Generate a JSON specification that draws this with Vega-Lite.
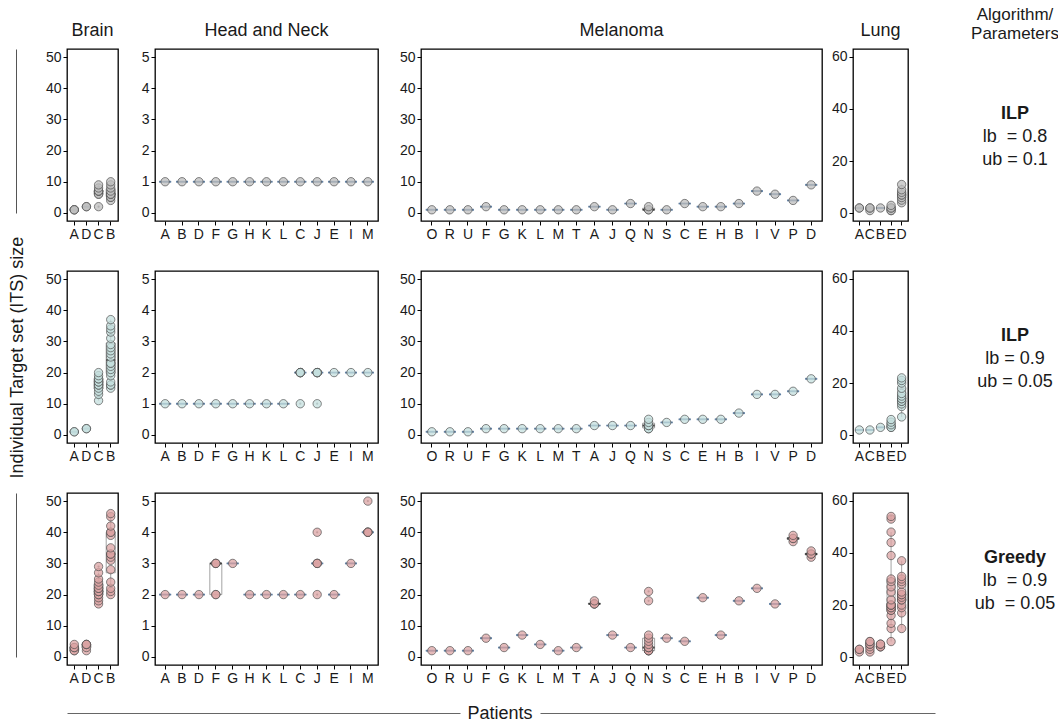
{
"$schema":"https://vega.github.io/schema/vega-lite/v6.json",
"padding":{"left":7,"top":6,"right":0,"bottom":2},
"config":{
 "font":"Liberation Sans",
 "view":{"stroke":null},
 "axis":{"grid":false,"domain":false,"ticks":true,"tickColor":"#000","tickSize":4,"tickWidth":1,"labelColor":"#1a1a1a","labelFontSize":14,"labelPadding":2,"labelFont":"Liberation Sans","labelOverlap":false},
 "title":{"fontSize":18,"fontWeight":"normal","color":"#1a1a1a","offset":9,"font":"Liberation Sans"},
 "text":{"color":"#1a1a1a","font":"Liberation Sans"}
},
"datasets":{
"its":[
{"r":1,"c":"Br","p":"A","v":1},{"r":1,"c":"Br","p":"A","v":1},{"r":1,"c":"Br","p":"A","v":1},{"r":1,"c":"Br","p":"D","v":2},{"r":1,"c":"Br","p":"D","v":2},
{"r":1,"c":"Br","p":"C","v":2},{"r":1,"c":"Br","p":"C","v":6},{"r":1,"c":"Br","p":"C","v":6},{"r":1,"c":"Br","p":"C","v":7},{"r":1,"c":"Br","p":"C","v":7},{"r":1,"c":"Br","p":"C","v":7},{"r":1,"c":"Br","p":"C","v":8},{"r":1,"c":"Br","p":"C","v":9},
{"r":1,"c":"Br","p":"B","v":4},{"r":1,"c":"Br","p":"B","v":5},{"r":1,"c":"Br","p":"B","v":5},{"r":1,"c":"Br","p":"B","v":6},{"r":1,"c":"Br","p":"B","v":6},{"r":1,"c":"Br","p":"B","v":6},{"r":1,"c":"Br","p":"B","v":7},{"r":1,"c":"Br","p":"B","v":8},{"r":1,"c":"Br","p":"B","v":9},{"r":1,"c":"Br","p":"B","v":10},
{"r":1,"c":"HN","p":"A","v":1},{"r":1,"c":"HN","p":"B","v":1},{"r":1,"c":"HN","p":"D","v":1},{"r":1,"c":"HN","p":"F","v":1},{"r":1,"c":"HN","p":"G","v":1},{"r":1,"c":"HN","p":"H","v":1},{"r":1,"c":"HN","p":"K","v":1},{"r":1,"c":"HN","p":"L","v":1},{"r":1,"c":"HN","p":"C","v":1},{"r":1,"c":"HN","p":"J","v":1},{"r":1,"c":"HN","p":"E","v":1},{"r":1,"c":"HN","p":"I","v":1},{"r":1,"c":"HN","p":"M","v":1},
{"r":1,"c":"Mel","p":"O","v":1},{"r":1,"c":"Mel","p":"R","v":1},{"r":1,"c":"Mel","p":"U","v":1},{"r":1,"c":"Mel","p":"F","v":2},{"r":1,"c":"Mel","p":"G","v":1},{"r":1,"c":"Mel","p":"K","v":1},{"r":1,"c":"Mel","p":"L","v":1},{"r":1,"c":"Mel","p":"M","v":1},{"r":1,"c":"Mel","p":"T","v":1},{"r":1,"c":"Mel","p":"A","v":2},{"r":1,"c":"Mel","p":"J","v":1},{"r":1,"c":"Mel","p":"Q","v":3},{"r":1,"c":"Mel","p":"N","v":1},{"r":1,"c":"Mel","p":"N","v":1},{"r":1,"c":"Mel","p":"N","v":2},{"r":1,"c":"Mel","p":"S","v":1},{"r":1,"c":"Mel","p":"C","v":3},{"r":1,"c":"Mel","p":"E","v":2},{"r":1,"c":"Mel","p":"H","v":2},{"r":1,"c":"Mel","p":"B","v":3},{"r":1,"c":"Mel","p":"I","v":7},{"r":1,"c":"Mel","p":"V","v":6},{"r":1,"c":"Mel","p":"P","v":4},{"r":1,"c":"Mel","p":"D","v":9},
{"r":1,"c":"Lu","p":"A","v":2},{"r":1,"c":"Lu","p":"A","v":2},{"r":1,"c":"Lu","p":"C","v":1},{"r":1,"c":"Lu","p":"C","v":2},{"r":1,"c":"Lu","p":"C","v":2},{"r":1,"c":"Lu","p":"B","v":2},{"r":1,"c":"Lu","p":"E","v":1},{"r":1,"c":"Lu","p":"E","v":1},{"r":1,"c":"Lu","p":"E","v":2},{"r":1,"c":"Lu","p":"E","v":2},{"r":1,"c":"Lu","p":"E","v":3},
{"r":1,"c":"Lu","p":"D","v":4},{"r":1,"c":"Lu","p":"D","v":5},{"r":1,"c":"Lu","p":"D","v":6},{"r":1,"c":"Lu","p":"D","v":7},{"r":1,"c":"Lu","p":"D","v":7},{"r":1,"c":"Lu","p":"D","v":8},{"r":1,"c":"Lu","p":"D","v":9},{"r":1,"c":"Lu","p":"D","v":11},
{"r":2,"c":"Br","p":"A","v":1},{"r":2,"c":"Br","p":"A","v":1},{"r":2,"c":"Br","p":"D","v":2},{"r":2,"c":"Br","p":"D","v":2},
{"r":2,"c":"Br","p":"C","v":11},{"r":2,"c":"Br","p":"C","v":13},{"r":2,"c":"Br","p":"C","v":14},{"r":2,"c":"Br","p":"C","v":15},{"r":2,"c":"Br","p":"C","v":16},{"r":2,"c":"Br","p":"C","v":16},{"r":2,"c":"Br","p":"C","v":17},{"r":2,"c":"Br","p":"C","v":17},{"r":2,"c":"Br","p":"C","v":18},{"r":2,"c":"Br","p":"C","v":18},{"r":2,"c":"Br","p":"C","v":19},{"r":2,"c":"Br","p":"C","v":20},
{"r":2,"c":"Br","p":"B","v":15},{"r":2,"c":"Br","p":"B","v":16},{"r":2,"c":"Br","p":"B","v":16},{"r":2,"c":"Br","p":"B","v":17},{"r":2,"c":"Br","p":"B","v":19},{"r":2,"c":"Br","p":"B","v":20},{"r":2,"c":"Br","p":"B","v":21},{"r":2,"c":"Br","p":"B","v":22},{"r":2,"c":"Br","p":"B","v":23},{"r":2,"c":"Br","p":"B","v":23},{"r":2,"c":"Br","p":"B","v":25},{"r":2,"c":"Br","p":"B","v":26},{"r":2,"c":"Br","p":"B","v":27},{"r":2,"c":"Br","p":"B","v":28},{"r":2,"c":"Br","p":"B","v":29},{"r":2,"c":"Br","p":"B","v":31},{"r":2,"c":"Br","p":"B","v":33},{"r":2,"c":"Br","p":"B","v":34},{"r":2,"c":"Br","p":"B","v":35},{"r":2,"c":"Br","p":"B","v":37},
{"r":2,"c":"HN","p":"A","v":1},{"r":2,"c":"HN","p":"B","v":1},{"r":2,"c":"HN","p":"D","v":1},{"r":2,"c":"HN","p":"F","v":1},{"r":2,"c":"HN","p":"G","v":1},{"r":2,"c":"HN","p":"H","v":1},{"r":2,"c":"HN","p":"K","v":1},{"r":2,"c":"HN","p":"L","v":1},
{"r":2,"c":"HN","p":"C","v":1},{"r":2,"c":"HN","p":"C","v":2},{"r":2,"c":"HN","p":"C","v":2},{"r":2,"c":"HN","p":"C","v":2},{"r":2,"c":"HN","p":"C","v":2},{"r":2,"c":"HN","p":"C","v":2},
{"r":2,"c":"HN","p":"J","v":1},{"r":2,"c":"HN","p":"J","v":2},{"r":2,"c":"HN","p":"J","v":2},{"r":2,"c":"HN","p":"J","v":2},{"r":2,"c":"HN","p":"J","v":2},{"r":2,"c":"HN","p":"J","v":2},
{"r":2,"c":"HN","p":"E","v":2},{"r":2,"c":"HN","p":"I","v":2},{"r":2,"c":"HN","p":"M","v":2},
{"r":2,"c":"Mel","p":"O","v":1},{"r":2,"c":"Mel","p":"R","v":1},{"r":2,"c":"Mel","p":"U","v":1},{"r":2,"c":"Mel","p":"F","v":2},{"r":2,"c":"Mel","p":"G","v":2},{"r":2,"c":"Mel","p":"K","v":2},{"r":2,"c":"Mel","p":"L","v":2},{"r":2,"c":"Mel","p":"M","v":2},{"r":2,"c":"Mel","p":"T","v":2},{"r":2,"c":"Mel","p":"A","v":3},{"r":2,"c":"Mel","p":"J","v":3},{"r":2,"c":"Mel","p":"Q","v":3},
{"r":2,"c":"Mel","p":"N","v":2},{"r":2,"c":"Mel","p":"N","v":2},{"r":2,"c":"Mel","p":"N","v":3},{"r":2,"c":"Mel","p":"N","v":3},{"r":2,"c":"Mel","p":"N","v":4},{"r":2,"c":"Mel","p":"N","v":5},
{"r":2,"c":"Mel","p":"S","v":4},{"r":2,"c":"Mel","p":"C","v":5},{"r":2,"c":"Mel","p":"E","v":5},{"r":2,"c":"Mel","p":"H","v":5},{"r":2,"c":"Mel","p":"B","v":7},{"r":2,"c":"Mel","p":"I","v":13},{"r":2,"c":"Mel","p":"V","v":13},{"r":2,"c":"Mel","p":"P","v":14},{"r":2,"c":"Mel","p":"D","v":18},
{"r":2,"c":"Lu","p":"A","v":2},{"r":2,"c":"Lu","p":"C","v":2},{"r":2,"c":"Lu","p":"B","v":3},{"r":2,"c":"Lu","p":"E","v":3},{"r":2,"c":"Lu","p":"E","v":3},{"r":2,"c":"Lu","p":"E","v":4},{"r":2,"c":"Lu","p":"E","v":5},{"r":2,"c":"Lu","p":"E","v":6},
{"r":2,"c":"Lu","p":"D","v":7},{"r":2,"c":"Lu","p":"D","v":11},{"r":2,"c":"Lu","p":"D","v":12},{"r":2,"c":"Lu","p":"D","v":13},{"r":2,"c":"Lu","p":"D","v":13},{"r":2,"c":"Lu","p":"D","v":14},{"r":2,"c":"Lu","p":"D","v":14},{"r":2,"c":"Lu","p":"D","v":15},{"r":2,"c":"Lu","p":"D","v":16},{"r":2,"c":"Lu","p":"D","v":18},{"r":2,"c":"Lu","p":"D","v":20},{"r":2,"c":"Lu","p":"D","v":21},{"r":2,"c":"Lu","p":"D","v":22},
{"r":3,"c":"Br","p":"A","v":2},{"r":3,"c":"Br","p":"A","v":2},{"r":3,"c":"Br","p":"A","v":3},{"r":3,"c":"Br","p":"A","v":3},{"r":3,"c":"Br","p":"A","v":4},
{"r":3,"c":"Br","p":"D","v":2},{"r":3,"c":"Br","p":"D","v":3},{"r":3,"c":"Br","p":"D","v":4},{"r":3,"c":"Br","p":"D","v":4},{"r":3,"c":"Br","p":"D","v":4},
{"r":3,"c":"Br","p":"C","v":17},{"r":3,"c":"Br","p":"C","v":18},{"r":3,"c":"Br","p":"C","v":19},{"r":3,"c":"Br","p":"C","v":20},{"r":3,"c":"Br","p":"C","v":20},{"r":3,"c":"Br","p":"C","v":21},{"r":3,"c":"Br","p":"C","v":21},{"r":3,"c":"Br","p":"C","v":21},{"r":3,"c":"Br","p":"C","v":22},{"r":3,"c":"Br","p":"C","v":22},{"r":3,"c":"Br","p":"C","v":23},{"r":3,"c":"Br","p":"C","v":24},{"r":3,"c":"Br","p":"C","v":25},{"r":3,"c":"Br","p":"C","v":27},{"r":3,"c":"Br","p":"C","v":29},
{"r":3,"c":"Br","p":"B","v":20},{"r":3,"c":"Br","p":"B","v":21},{"r":3,"c":"Br","p":"B","v":22},{"r":3,"c":"Br","p":"B","v":24},{"r":3,"c":"Br","p":"B","v":28},{"r":3,"c":"Br","p":"B","v":31},{"r":3,"c":"Br","p":"B","v":32},{"r":3,"c":"Br","p":"B","v":33},{"r":3,"c":"Br","p":"B","v":33},{"r":3,"c":"Br","p":"B","v":35},{"r":3,"c":"Br","p":"B","v":39},{"r":3,"c":"Br","p":"B","v":40},{"r":3,"c":"Br","p":"B","v":40},{"r":3,"c":"Br","p":"B","v":42},{"r":3,"c":"Br","p":"B","v":45},{"r":3,"c":"Br","p":"B","v":46},
{"r":3,"c":"HN","p":"A","v":2},{"r":3,"c":"HN","p":"B","v":2},{"r":3,"c":"HN","p":"D","v":2},{"r":3,"c":"HN","p":"F","v":2},{"r":3,"c":"HN","p":"F","v":2},{"r":3,"c":"HN","p":"F","v":3},{"r":3,"c":"HN","p":"F","v":3},{"r":3,"c":"HN","p":"F","v":3},{"r":3,"c":"HN","p":"G","v":3},{"r":3,"c":"HN","p":"H","v":2},{"r":3,"c":"HN","p":"K","v":2},{"r":3,"c":"HN","p":"L","v":2},{"r":3,"c":"HN","p":"C","v":2},
{"r":3,"c":"HN","p":"J","v":2},{"r":3,"c":"HN","p":"J","v":3},{"r":3,"c":"HN","p":"J","v":3},{"r":3,"c":"HN","p":"J","v":3},{"r":3,"c":"HN","p":"J","v":4},{"r":3,"c":"HN","p":"E","v":2},{"r":3,"c":"HN","p":"I","v":3},
{"r":3,"c":"HN","p":"M","v":4},{"r":3,"c":"HN","p":"M","v":4},{"r":3,"c":"HN","p":"M","v":4},{"r":3,"c":"HN","p":"M","v":4},{"r":3,"c":"HN","p":"M","v":5},
{"r":3,"c":"Mel","p":"O","v":2},{"r":3,"c":"Mel","p":"R","v":2},{"r":3,"c":"Mel","p":"U","v":2},{"r":3,"c":"Mel","p":"F","v":6},{"r":3,"c":"Mel","p":"G","v":3},{"r":3,"c":"Mel","p":"K","v":7},{"r":3,"c":"Mel","p":"L","v":4},{"r":3,"c":"Mel","p":"M","v":2},{"r":3,"c":"Mel","p":"T","v":3},
{"r":3,"c":"Mel","p":"A","v":17},{"r":3,"c":"Mel","p":"A","v":17},{"r":3,"c":"Mel","p":"A","v":17},{"r":3,"c":"Mel","p":"A","v":18},{"r":3,"c":"Mel","p":"J","v":7},{"r":3,"c":"Mel","p":"Q","v":3},
{"r":3,"c":"Mel","p":"N","v":2},{"r":3,"c":"Mel","p":"N","v":2},{"r":3,"c":"Mel","p":"N","v":2},{"r":3,"c":"Mel","p":"N","v":2},{"r":3,"c":"Mel","p":"N","v":3},{"r":3,"c":"Mel","p":"N","v":3},{"r":3,"c":"Mel","p":"N","v":3},{"r":3,"c":"Mel","p":"N","v":4},{"r":3,"c":"Mel","p":"N","v":5},{"r":3,"c":"Mel","p":"N","v":6},{"r":3,"c":"Mel","p":"N","v":7},{"r":3,"c":"Mel","p":"N","v":18},{"r":3,"c":"Mel","p":"N","v":21},
{"r":3,"c":"Mel","p":"S","v":6},{"r":3,"c":"Mel","p":"C","v":5},{"r":3,"c":"Mel","p":"E","v":19},{"r":3,"c":"Mel","p":"H","v":7},{"r":3,"c":"Mel","p":"B","v":18},{"r":3,"c":"Mel","p":"I","v":22},{"r":3,"c":"Mel","p":"V","v":17},
{"r":3,"c":"Mel","p":"P","v":37},{"r":3,"c":"Mel","p":"P","v":38},{"r":3,"c":"Mel","p":"P","v":38},{"r":3,"c":"Mel","p":"P","v":39},{"r":3,"c":"Mel","p":"D","v":32},{"r":3,"c":"Mel","p":"D","v":33},{"r":3,"c":"Mel","p":"D","v":33},{"r":3,"c":"Mel","p":"D","v":34},
{"r":3,"c":"Lu","p":"A","v":2},{"r":3,"c":"Lu","p":"A","v":3},{"r":3,"c":"Lu","p":"A","v":3},
{"r":3,"c":"Lu","p":"C","v":2},{"r":3,"c":"Lu","p":"C","v":3},{"r":3,"c":"Lu","p":"C","v":4},{"r":3,"c":"Lu","p":"C","v":5},{"r":3,"c":"Lu","p":"C","v":5},{"r":3,"c":"Lu","p":"C","v":6},{"r":3,"c":"Lu","p":"C","v":6},
{"r":3,"c":"Lu","p":"B","v":4},{"r":3,"c":"Lu","p":"B","v":4},{"r":3,"c":"Lu","p":"B","v":4},{"r":3,"c":"Lu","p":"B","v":5},{"r":3,"c":"Lu","p":"B","v":5},
{"r":3,"c":"Lu","p":"E","v":6},{"r":3,"c":"Lu","p":"E","v":11},{"r":3,"c":"Lu","p":"E","v":13},{"r":3,"c":"Lu","p":"E","v":16},{"r":3,"c":"Lu","p":"E","v":18},{"r":3,"c":"Lu","p":"E","v":18},{"r":3,"c":"Lu","p":"E","v":19},{"r":3,"c":"Lu","p":"E","v":19},{"r":3,"c":"Lu","p":"E","v":20},{"r":3,"c":"Lu","p":"E","v":20},{"r":3,"c":"Lu","p":"E","v":20},{"r":3,"c":"Lu","p":"E","v":22},{"r":3,"c":"Lu","p":"E","v":25},{"r":3,"c":"Lu","p":"E","v":27},{"r":3,"c":"Lu","p":"E","v":29},{"r":3,"c":"Lu","p":"E","v":30},{"r":3,"c":"Lu","p":"E","v":39},{"r":3,"c":"Lu","p":"E","v":44},{"r":3,"c":"Lu","p":"E","v":48},{"r":3,"c":"Lu","p":"E","v":53},{"r":3,"c":"Lu","p":"E","v":54},
{"r":3,"c":"Lu","p":"D","v":11},{"r":3,"c":"Lu","p":"D","v":17},{"r":3,"c":"Lu","p":"D","v":19},{"r":3,"c":"Lu","p":"D","v":20},{"r":3,"c":"Lu","p":"D","v":22},{"r":3,"c":"Lu","p":"D","v":22},{"r":3,"c":"Lu","p":"D","v":23},{"r":3,"c":"Lu","p":"D","v":24},{"r":3,"c":"Lu","p":"D","v":24},{"r":3,"c":"Lu","p":"D","v":25},{"r":3,"c":"Lu","p":"D","v":28},{"r":3,"c":"Lu","p":"D","v":29},{"r":3,"c":"Lu","p":"D","v":30},{"r":3,"c":"Lu","p":"D","v":31},{"r":3,"c":"Lu","p":"D","v":37}
],
"lab":[
{"r":1,"line":1,"t":"ILP"},{"r":1,"line":2,"t":"lb\u00a0 = 0.8"},{"r":1,"line":3,"t":"ub = 0.1"},
{"r":2,"line":1,"t":"ILP"},{"r":2,"line":2,"t":"lb = 0.9"},{"r":2,"line":3,"t":"ub = 0.05"},
{"r":3,"line":1,"t":"Greedy"},{"r":3,"line":2,"t":"lb\u00a0 = 0.9"},{"r":3,"line":3,"t":"ub\u00a0 = 0.05"}
]
},
"vconcat":[
{"columns":11,"spacing":{"row":50,"column":0},"bounds":"flush","concat":[
{"width":1,"height":164,"data":{"values":[{"k":0}]},"mark":{"type":"point","opacity":0},"encoding":{"y":{"field":"k","type":"quantitative","scale":{"domain":[0,1]},"axis":{"domain":true,"domainColor":"#555","domainWidth":1,"ticks":false,"labels":false,"title":null}}}},
{"width":50,"height":172,"data":{"values":[{"k":0}]},"mark":{"type":"point","opacity":0},"encoding":{}},
{"width":51,"height":172,"view":{"stroke":"black","strokeWidth":1.3},"title":"Brain","data":{"name":"its"},"transform":[{"filter":"datum.r==1 && datum.c=='Br'"}],"layer":[
{"mark":{"type":"boxplot","extent":1.5,"size":9,"ticks":false,"box":{"fill":"white","fillOpacity":0,"stroke":"#8c8c8c","strokeWidth":0.8},"median":{"color":"#000","thickness":2},"rule":{"color":"#8c8c8c","strokeWidth":0.8},"outliers":{"size":5,"color":"#555","filled":true}},
"encoding":{"x":{"field":"p","type":"nominal","sort":["A","D","C","B"],"scale":{"type":"band","paddingInner":0,"paddingOuter":0.1},"axis":{"title":null,"labelAngle":0}},"y":{"field":"v","type":"quantitative","scale":{"domain":[-2.6,52.6],"nice":false,"zero":false},"axis":{"title":null,"values":[0,10,20,30,40,50]}}}},
{"mark":{"type":"circle","size":70,"fill":"#bdbdbd","fillOpacity":0.75,"stroke":"#4d4d4d","strokeWidth":0.8,"strokeOpacity":0.85},
"encoding":{"x":{"field":"p","type":"nominal","sort":["A","D","C","B"],"scale":{"type":"band","paddingInner":0,"paddingOuter":0.1},"axis":{"title":null,"labelAngle":0}},"y":{"field":"v","type":"quantitative","scale":{"domain":[-2.6,52.6],"nice":false,"zero":false},"axis":{"title":null,"values":[0,10,20,30,40,50]}}}}]},
{"width":37,"height":172,"data":{"values":[{"k":0}]},"mark":{"type":"point","opacity":0},"encoding":{}},
{"width":223,"height":172,"view":{"stroke":"black","strokeWidth":1.3},"title":"Head and Neck","data":{"name":"its"},"transform":[{"filter":"datum.r==1 && datum.c=='HN'"}],"layer":[
{"mark":{"type":"boxplot","extent":1.5,"size":12,"ticks":false,"box":{"fill":"white","fillOpacity":0,"stroke":"#8c8c8c","strokeWidth":0.8},"median":{"color":"#000","thickness":2},"rule":{"color":"#8c8c8c","strokeWidth":0.8},"outliers":{"size":5,"color":"#555","filled":true}},
"encoding":{"x":{"field":"p","type":"nominal","sort":["A","B","D","F","G","H","K","L","C","J","E","I","M"],"scale":{"type":"band","paddingInner":0,"paddingOuter":0.1},"axis":{"title":null,"labelAngle":0}},"y":{"field":"v","type":"quantitative","scale":{"domain":[-0.26,5.26],"nice":false,"zero":false},"axis":{"title":null,"values":[0,1,2,3,4,5]}}}},
{"mark":{"type":"circle","size":70,"fill":"#bdbdbd","fillOpacity":0.75,"stroke":"#4d4d4d","strokeWidth":0.8,"strokeOpacity":0.85},
"encoding":{"x":{"field":"p","type":"nominal","sort":["A","B","D","F","G","H","K","L","C","J","E","I","M"],"scale":{"type":"band","paddingInner":0,"paddingOuter":0.1},"axis":{"title":null,"labelAngle":0}},"y":{"field":"v","type":"quantitative","scale":{"domain":[-0.26,5.26],"nice":false,"zero":false},"axis":{"title":null,"values":[0,1,2,3,4,5]}}}}]},
{"width":43,"height":172,"data":{"values":[{"k":0}]},"mark":{"type":"point","opacity":0},"encoding":{}},
{"width":401,"height":172,"view":{"stroke":"black","strokeWidth":1.3},"title":"Melanoma","data":{"name":"its"},"transform":[{"filter":"datum.r==1 && datum.c=='Mel'"}],"layer":[
{"mark":{"type":"boxplot","extent":1.5,"size":12,"ticks":false,"box":{"fill":"white","fillOpacity":0,"stroke":"#8c8c8c","strokeWidth":0.8},"median":{"color":"#000","thickness":2},"rule":{"color":"#8c8c8c","strokeWidth":0.8},"outliers":{"size":5,"color":"#555","filled":true}},
"encoding":{"x":{"field":"p","type":"nominal","sort":["O","R","U","F","G","K","L","M","T","A","J","Q","N","S","C","E","H","B","I","V","P","D"],"scale":{"type":"band","paddingInner":0,"paddingOuter":0.1},"axis":{"title":null,"labelAngle":0}},"y":{"field":"v","type":"quantitative","scale":{"domain":[-2.6,52.6],"nice":false,"zero":false},"axis":{"title":null,"values":[0,10,20,30,40,50]}}}},
{"mark":{"type":"circle","size":70,"fill":"#bdbdbd","fillOpacity":0.75,"stroke":"#4d4d4d","strokeWidth":0.8,"strokeOpacity":0.85},
"encoding":{"x":{"field":"p","type":"nominal","sort":["O","R","U","F","G","K","L","M","T","A","J","Q","N","S","C","E","H","B","I","V","P","D"],"scale":{"type":"band","paddingInner":0,"paddingOuter":0.1},"axis":{"title":null,"labelAngle":0}},"y":{"field":"v","type":"quantitative","scale":{"domain":[-2.6,52.6],"nice":false,"zero":false},"axis":{"title":null,"values":[0,10,20,30,40,50]}}}}]},
{"width":31,"height":172,"data":{"values":[{"k":0}]},"mark":{"type":"point","opacity":0},"encoding":{}},
{"width":55,"height":172,"view":{"stroke":"black","strokeWidth":1.3},"title":"Lung","data":{"name":"its"},"transform":[{"filter":"datum.r==1 && datum.c=='Lu'"}],"layer":[
{"mark":{"type":"boxplot","extent":1.5,"size":8,"ticks":false,"box":{"fill":"white","fillOpacity":0,"stroke":"#8c8c8c","strokeWidth":0.8},"median":{"color":"#000","thickness":2},"rule":{"color":"#8c8c8c","strokeWidth":0.8},"outliers":{"size":5,"color":"#555","filled":true}},
"encoding":{"x":{"field":"p","type":"nominal","sort":["A","C","B","E","D"],"scale":{"type":"band","paddingInner":0,"paddingOuter":0.1},"axis":{"title":null,"labelAngle":0}},"y":{"field":"v","type":"quantitative","scale":{"domain":[-3,63],"nice":false,"zero":false},"axis":{"title":null,"values":[0,20,40,60]}}}},
{"mark":{"type":"circle","size":70,"fill":"#bdbdbd","fillOpacity":0.75,"stroke":"#4d4d4d","strokeWidth":0.8,"strokeOpacity":0.85},
"encoding":{"x":{"field":"p","type":"nominal","sort":["A","C","B","E","D"],"scale":{"type":"band","paddingInner":0,"paddingOuter":0.1},"axis":{"title":null,"labelAngle":0}},"y":{"field":"v","type":"quantitative","scale":{"domain":[-3,63],"nice":false,"zero":false},"axis":{"title":null,"values":[0,20,40,60]}}}}]},
{"width":67,"height":172,"data":{"values":[{"k":0}]},"mark":{"type":"point","opacity":0},"encoding":{}},
{"width":80,"height":172,"title":{"text":["Algorithm/","Parameters"],"fontSize":17,"lineHeight":19,"offset":6},"data":{"name":"lab"},"transform":[{"filter":"datum.r==1"}],"layer":[
{"transform":[{"filter":"datum.line==1"}],"mark":{"type":"text","fontSize":18,"fontWeight":"bold","baseline":"middle"},"encoding":{"y":{"field":"line","type":"quantitative","scale":{"domain":[-1.826,5.652],"reverse":true,"nice":false,"zero":false},"axis":null},"text":{"field":"t"}}},
{"transform":[{"filter":"datum.line>1"}],"mark":{"type":"text","fontSize":18,"baseline":"middle"},"encoding":{"y":{"field":"line","type":"quantitative","scale":{"domain":[-1.826,5.652],"reverse":true,"nice":false,"zero":false},"axis":null},"text":{"field":"t"}}}]},

{"width":1,"height":172,"data":{"values":[{"k":0}]},"mark":{"type":"point","opacity":0},"encoding":{"y":{"field":"k","type":"quantitative","scale":{"domain":[0,1]},"axis":{"domain":false,"ticks":false,"labels":false,"title":"Individual Target set (ITS) size","titleFontSize":18,"titleFontWeight":"normal","titleColor":"#1a1a1a","titleAngle":-90,"titleX":1,"titleY":86,"titleAlign":"center","titleBaseline":"middle"}}}},
{"width":50,"height":172,"data":{"values":[{"k":0}]},"mark":{"type":"point","opacity":0},"encoding":{}},
{"width":51,"height":172,"view":{"stroke":"black","strokeWidth":1.3},"data":{"name":"its"},"transform":[{"filter":"datum.r==2 && datum.c=='Br'"}],"layer":[
{"mark":{"type":"boxplot","extent":1.5,"size":9,"ticks":false,"box":{"fill":"white","fillOpacity":0,"stroke":"#8c8c8c","strokeWidth":0.8},"median":{"color":"#000","thickness":2},"rule":{"color":"#8c8c8c","strokeWidth":0.8},"outliers":{"size":5,"color":"#555","filled":true}},
"encoding":{"x":{"field":"p","type":"nominal","sort":["A","D","C","B"],"scale":{"type":"band","paddingInner":0,"paddingOuter":0.1},"axis":{"title":null,"labelAngle":0}},"y":{"field":"v","type":"quantitative","scale":{"domain":[-2.6,52.6],"nice":false,"zero":false},"axis":{"title":null,"values":[0,10,20,30,40,50]}}}},
{"mark":{"type":"circle","size":70,"fill":"#c4dfdd","fillOpacity":0.75,"stroke":"#4d4d4d","strokeWidth":0.8,"strokeOpacity":0.85},
"encoding":{"x":{"field":"p","type":"nominal","sort":["A","D","C","B"],"scale":{"type":"band","paddingInner":0,"paddingOuter":0.1},"axis":{"title":null,"labelAngle":0}},"y":{"field":"v","type":"quantitative","scale":{"domain":[-2.6,52.6],"nice":false,"zero":false},"axis":{"title":null,"values":[0,10,20,30,40,50]}}}}]},
{"width":37,"height":172,"data":{"values":[{"k":0}]},"mark":{"type":"point","opacity":0},"encoding":{}},
{"width":223,"height":172,"view":{"stroke":"black","strokeWidth":1.3},"data":{"name":"its"},"transform":[{"filter":"datum.r==2 && datum.c=='HN'"}],"layer":[
{"mark":{"type":"boxplot","extent":1.5,"size":12,"ticks":false,"box":{"fill":"white","fillOpacity":0,"stroke":"#8c8c8c","strokeWidth":0.8},"median":{"color":"#000","thickness":2},"rule":{"color":"#8c8c8c","strokeWidth":0.8},"outliers":{"size":5,"color":"#555","filled":true}},
"encoding":{"x":{"field":"p","type":"nominal","sort":["A","B","D","F","G","H","K","L","C","J","E","I","M"],"scale":{"type":"band","paddingInner":0,"paddingOuter":0.1},"axis":{"title":null,"labelAngle":0}},"y":{"field":"v","type":"quantitative","scale":{"domain":[-0.26,5.26],"nice":false,"zero":false},"axis":{"title":null,"values":[0,1,2,3,4,5]}}}},
{"mark":{"type":"circle","size":70,"fill":"#c4dfdd","fillOpacity":0.75,"stroke":"#4d4d4d","strokeWidth":0.8,"strokeOpacity":0.85},
"encoding":{"x":{"field":"p","type":"nominal","sort":["A","B","D","F","G","H","K","L","C","J","E","I","M"],"scale":{"type":"band","paddingInner":0,"paddingOuter":0.1},"axis":{"title":null,"labelAngle":0}},"y":{"field":"v","type":"quantitative","scale":{"domain":[-0.26,5.26],"nice":false,"zero":false},"axis":{"title":null,"values":[0,1,2,3,4,5]}}}}]},
{"width":43,"height":172,"data":{"values":[{"k":0}]},"mark":{"type":"point","opacity":0},"encoding":{}},
{"width":401,"height":172,"view":{"stroke":"black","strokeWidth":1.3},"data":{"name":"its"},"transform":[{"filter":"datum.r==2 && datum.c=='Mel'"}],"layer":[
{"mark":{"type":"boxplot","extent":1.5,"size":12,"ticks":false,"box":{"fill":"white","fillOpacity":0,"stroke":"#8c8c8c","strokeWidth":0.8},"median":{"color":"#000","thickness":2},"rule":{"color":"#8c8c8c","strokeWidth":0.8},"outliers":{"size":5,"color":"#555","filled":true}},
"encoding":{"x":{"field":"p","type":"nominal","sort":["O","R","U","F","G","K","L","M","T","A","J","Q","N","S","C","E","H","B","I","V","P","D"],"scale":{"type":"band","paddingInner":0,"paddingOuter":0.1},"axis":{"title":null,"labelAngle":0}},"y":{"field":"v","type":"quantitative","scale":{"domain":[-2.6,52.6],"nice":false,"zero":false},"axis":{"title":null,"values":[0,10,20,30,40,50]}}}},
{"mark":{"type":"circle","size":70,"fill":"#c4dfdd","fillOpacity":0.75,"stroke":"#4d4d4d","strokeWidth":0.8,"strokeOpacity":0.85},
"encoding":{"x":{"field":"p","type":"nominal","sort":["O","R","U","F","G","K","L","M","T","A","J","Q","N","S","C","E","H","B","I","V","P","D"],"scale":{"type":"band","paddingInner":0,"paddingOuter":0.1},"axis":{"title":null,"labelAngle":0}},"y":{"field":"v","type":"quantitative","scale":{"domain":[-2.6,52.6],"nice":false,"zero":false},"axis":{"title":null,"values":[0,10,20,30,40,50]}}}}]},
{"width":31,"height":172,"data":{"values":[{"k":0}]},"mark":{"type":"point","opacity":0},"encoding":{}},
{"width":55,"height":172,"view":{"stroke":"black","strokeWidth":1.3},"data":{"name":"its"},"transform":[{"filter":"datum.r==2 && datum.c=='Lu'"}],"layer":[
{"mark":{"type":"boxplot","extent":1.5,"size":8,"ticks":false,"box":{"fill":"white","fillOpacity":0,"stroke":"#8c8c8c","strokeWidth":0.8},"median":{"color":"#000","thickness":2},"rule":{"color":"#8c8c8c","strokeWidth":0.8},"outliers":{"size":5,"color":"#555","filled":true}},
"encoding":{"x":{"field":"p","type":"nominal","sort":["A","C","B","E","D"],"scale":{"type":"band","paddingInner":0,"paddingOuter":0.1},"axis":{"title":null,"labelAngle":0}},"y":{"field":"v","type":"quantitative","scale":{"domain":[-3,63],"nice":false,"zero":false},"axis":{"title":null,"values":[0,20,40,60]}}}},
{"mark":{"type":"circle","size":70,"fill":"#c4dfdd","fillOpacity":0.75,"stroke":"#4d4d4d","strokeWidth":0.8,"strokeOpacity":0.85},
"encoding":{"x":{"field":"p","type":"nominal","sort":["A","C","B","E","D"],"scale":{"type":"band","paddingInner":0,"paddingOuter":0.1},"axis":{"title":null,"labelAngle":0}},"y":{"field":"v","type":"quantitative","scale":{"domain":[-3,63],"nice":false,"zero":false},"axis":{"title":null,"values":[0,20,40,60]}}}}]},
{"width":67,"height":172,"data":{"values":[{"k":0}]},"mark":{"type":"point","opacity":0},"encoding":{}},
{"width":80,"height":172,"data":{"name":"lab"},"transform":[{"filter":"datum.r==2"}],"layer":[
{"transform":[{"filter":"datum.line==1"}],"mark":{"type":"text","fontSize":18,"fontWeight":"bold","baseline":"middle"},"encoding":{"y":{"field":"line","type":"quantitative","scale":{"domain":[-1.826,5.652],"reverse":true,"nice":false,"zero":false},"axis":null},"text":{"field":"t"}}},
{"transform":[{"filter":"datum.line>1"}],"mark":{"type":"text","fontSize":18,"baseline":"middle"},"encoding":{"y":{"field":"line","type":"quantitative","scale":{"domain":[-1.826,5.652],"reverse":true,"nice":false,"zero":false},"axis":null},"text":{"field":"t"}}}]},

{"width":1,"height":164,"data":{"values":[{"k":0}]},"mark":{"type":"point","opacity":0},"encoding":{"y":{"field":"k","type":"quantitative","scale":{"domain":[0,1]},"axis":{"domain":true,"domainColor":"#555","domainWidth":1,"ticks":false,"labels":false,"title":null}}}},
{"width":50,"height":172,"data":{"values":[{"k":0}]},"mark":{"type":"point","opacity":0},"encoding":{}},
{"width":51,"height":172,"view":{"stroke":"black","strokeWidth":1.3},"data":{"name":"its"},"transform":[{"filter":"datum.r==3 && datum.c=='Br'"}],"layer":[
{"mark":{"type":"boxplot","extent":1.5,"size":9,"ticks":false,"box":{"fill":"white","fillOpacity":0,"stroke":"#8c8c8c","strokeWidth":0.8},"median":{"color":"#000","thickness":2},"rule":{"color":"#8c8c8c","strokeWidth":0.8},"outliers":{"size":5,"color":"#555","filled":true}},
"encoding":{"x":{"field":"p","type":"nominal","sort":["A","D","C","B"],"scale":{"type":"band","paddingInner":0,"paddingOuter":0.1},"axis":{"title":null,"labelAngle":0}},"y":{"field":"v","type":"quantitative","scale":{"domain":[-2.6,52.6],"nice":false,"zero":false},"axis":{"title":null,"values":[0,10,20,30,40,50]}}}},
{"mark":{"type":"circle","size":70,"fill":"#dba3a3","fillOpacity":0.75,"stroke":"#4d4d4d","strokeWidth":0.8,"strokeOpacity":0.85},
"encoding":{"x":{"field":"p","type":"nominal","sort":["A","D","C","B"],"scale":{"type":"band","paddingInner":0,"paddingOuter":0.1},"axis":{"title":null,"labelAngle":0}},"y":{"field":"v","type":"quantitative","scale":{"domain":[-2.6,52.6],"nice":false,"zero":false},"axis":{"title":null,"values":[0,10,20,30,40,50]}}}}]},
{"width":37,"height":172,"data":{"values":[{"k":0}]},"mark":{"type":"point","opacity":0},"encoding":{}},
{"width":223,"height":172,"view":{"stroke":"black","strokeWidth":1.3},"data":{"name":"its"},"transform":[{"filter":"datum.r==3 && datum.c=='HN'"}],"layer":[
{"mark":{"type":"boxplot","extent":1.5,"size":12,"ticks":false,"box":{"fill":"white","fillOpacity":0,"stroke":"#8c8c8c","strokeWidth":0.8},"median":{"color":"#000","thickness":2},"rule":{"color":"#8c8c8c","strokeWidth":0.8},"outliers":{"size":5,"color":"#555","filled":true}},
"encoding":{"x":{"field":"p","type":"nominal","sort":["A","B","D","F","G","H","K","L","C","J","E","I","M"],"scale":{"type":"band","paddingInner":0,"paddingOuter":0.1},"axis":{"title":null,"labelAngle":0}},"y":{"field":"v","type":"quantitative","scale":{"domain":[-0.26,5.26],"nice":false,"zero":false},"axis":{"title":null,"values":[0,1,2,3,4,5]}}}},
{"mark":{"type":"circle","size":70,"fill":"#dba3a3","fillOpacity":0.75,"stroke":"#4d4d4d","strokeWidth":0.8,"strokeOpacity":0.85},
"encoding":{"x":{"field":"p","type":"nominal","sort":["A","B","D","F","G","H","K","L","C","J","E","I","M"],"scale":{"type":"band","paddingInner":0,"paddingOuter":0.1},"axis":{"title":null,"labelAngle":0}},"y":{"field":"v","type":"quantitative","scale":{"domain":[-0.26,5.26],"nice":false,"zero":false},"axis":{"title":null,"values":[0,1,2,3,4,5]}}}}]},
{"width":43,"height":172,"data":{"values":[{"k":0}]},"mark":{"type":"point","opacity":0},"encoding":{}},
{"width":401,"height":172,"view":{"stroke":"black","strokeWidth":1.3},"data":{"name":"its"},"transform":[{"filter":"datum.r==3 && datum.c=='Mel'"}],"layer":[
{"mark":{"type":"boxplot","extent":1.5,"size":12,"ticks":false,"box":{"fill":"white","fillOpacity":0,"stroke":"#8c8c8c","strokeWidth":0.8},"median":{"color":"#000","thickness":2},"rule":{"color":"#8c8c8c","strokeWidth":0.8},"outliers":{"size":5,"color":"#555","filled":true}},
"encoding":{"x":{"field":"p","type":"nominal","sort":["O","R","U","F","G","K","L","M","T","A","J","Q","N","S","C","E","H","B","I","V","P","D"],"scale":{"type":"band","paddingInner":0,"paddingOuter":0.1},"axis":{"title":null,"labelAngle":0}},"y":{"field":"v","type":"quantitative","scale":{"domain":[-2.6,52.6],"nice":false,"zero":false},"axis":{"title":null,"values":[0,10,20,30,40,50]}}}},
{"mark":{"type":"circle","size":70,"fill":"#dba3a3","fillOpacity":0.75,"stroke":"#4d4d4d","strokeWidth":0.8,"strokeOpacity":0.85},
"encoding":{"x":{"field":"p","type":"nominal","sort":["O","R","U","F","G","K","L","M","T","A","J","Q","N","S","C","E","H","B","I","V","P","D"],"scale":{"type":"band","paddingInner":0,"paddingOuter":0.1},"axis":{"title":null,"labelAngle":0}},"y":{"field":"v","type":"quantitative","scale":{"domain":[-2.6,52.6],"nice":false,"zero":false},"axis":{"title":null,"values":[0,10,20,30,40,50]}}}}]},
{"width":31,"height":172,"data":{"values":[{"k":0}]},"mark":{"type":"point","opacity":0},"encoding":{}},
{"width":55,"height":172,"view":{"stroke":"black","strokeWidth":1.3},"data":{"name":"its"},"transform":[{"filter":"datum.r==3 && datum.c=='Lu'"}],"layer":[
{"mark":{"type":"boxplot","extent":1.5,"size":8,"ticks":false,"box":{"fill":"white","fillOpacity":0,"stroke":"#8c8c8c","strokeWidth":0.8},"median":{"color":"#000","thickness":2},"rule":{"color":"#8c8c8c","strokeWidth":0.8},"outliers":{"size":5,"color":"#555","filled":true}},
"encoding":{"x":{"field":"p","type":"nominal","sort":["A","C","B","E","D"],"scale":{"type":"band","paddingInner":0,"paddingOuter":0.1},"axis":{"title":null,"labelAngle":0}},"y":{"field":"v","type":"quantitative","scale":{"domain":[-3,63],"nice":false,"zero":false},"axis":{"title":null,"values":[0,20,40,60]}}}},
{"mark":{"type":"circle","size":70,"fill":"#dba3a3","fillOpacity":0.75,"stroke":"#4d4d4d","strokeWidth":0.8,"strokeOpacity":0.85},
"encoding":{"x":{"field":"p","type":"nominal","sort":["A","C","B","E","D"],"scale":{"type":"band","paddingInner":0,"paddingOuter":0.1},"axis":{"title":null,"labelAngle":0}},"y":{"field":"v","type":"quantitative","scale":{"domain":[-3,63],"nice":false,"zero":false},"axis":{"title":null,"values":[0,20,40,60]}}}}]},
{"width":67,"height":172,"data":{"values":[{"k":0}]},"mark":{"type":"point","opacity":0},"encoding":{}},
{"width":80,"height":172,"data":{"name":"lab"},"transform":[{"filter":"datum.r==3"}],"layer":[
{"transform":[{"filter":"datum.line==1"}],"mark":{"type":"text","fontSize":18,"fontWeight":"bold","baseline":"middle"},"encoding":{"y":{"field":"line","type":"quantitative","scale":{"domain":[-1.826,5.652],"reverse":true,"nice":false,"zero":false},"axis":null},"text":{"field":"t"}}},
{"transform":[{"filter":"datum.line>1"}],"mark":{"type":"text","fontSize":18,"baseline":"middle"},"encoding":{"y":{"field":"line","type":"quantitative","scale":{"domain":[-1.826,5.652],"reverse":true,"nice":false,"zero":false},"axis":null},"text":{"field":"t"}}}]}
]},
{"hconcat":[
{"width":51,"height":1,"data":{"values":[{"k":0}]},"mark":{"type":"point","opacity":0},"encoding":{}},
{"width":393,"height":1,"data":{"values":[{"k":0}]},"mark":{"type":"point","opacity":0},"encoding":{"x":{"field":"k","type":"quantitative","scale":{"domain":[0,1]},"axis":{"orient":"top","domain":true,"domainColor":"#666","domainWidth":1,"ticks":false,"labels":false,"title":null}}}},
{"width":80,"height":1,"data":{"values":[{"t":"Patients"}]},"mark":{"type":"text","fontSize":18,"baseline":"middle"},"encoding":{"text":{"field":"t"}}},
{"width":395,"height":1,"data":{"values":[{"k":0}]},"mark":{"type":"point","opacity":0},"encoding":{"x":{"field":"k","type":"quantitative","scale":{"domain":[0,1]},"axis":{"orient":"top","domain":true,"domainColor":"#666","domainWidth":1,"ticks":false,"labels":false,"title":null}}}}
],"spacing":0,"bounds":"flush"}
],
"spacing":18
}
